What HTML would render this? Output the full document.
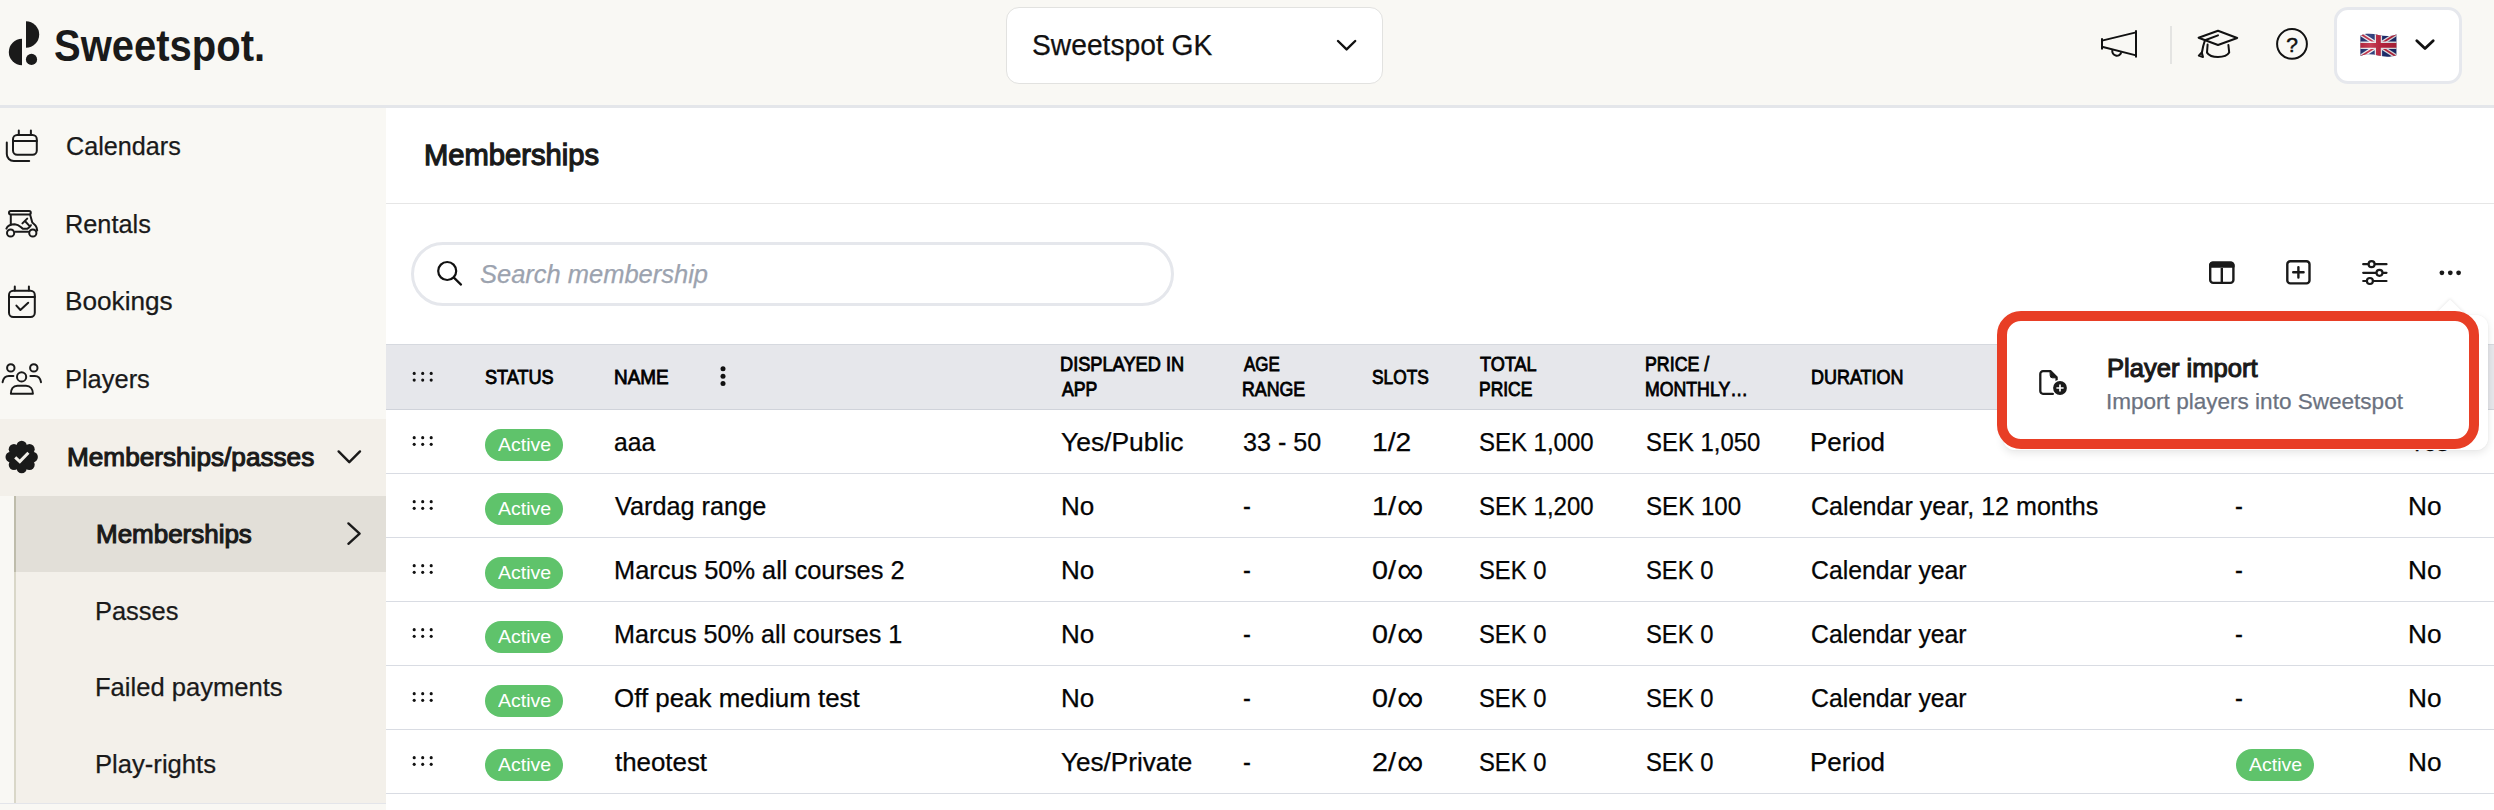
<!DOCTYPE html>
<html lang="en"><head><meta charset="utf-8"><title>Sweetspot – Memberships</title>
<style>
*{box-sizing:border-box;margin:0;padding:0}
html,body{width:2494px;height:810px;overflow:hidden;background:#fff;font-family:"Liberation Sans",sans-serif;}
body{position:relative}
.abs{position:absolute}
.t{position:absolute;transform-origin:0 0;white-space:nowrap;line-height:1;font-family:"Liberation Sans",sans-serif;}
#header{position:absolute;left:0;top:0;width:2494px;height:105px;background:#f9f8f4}
#hline{position:absolute;left:0;top:105px;width:2494px;height:3px;background:#e4e6ea}
#sidebar{position:absolute;left:0;top:108px;width:386px;height:702px;background:#f9f8f4}
#selparent{position:absolute;left:0;top:419px;width:386px;height:77px;background:#f3f0ea}
#submenu{position:absolute;left:14px;top:496px;width:372px;height:307px;background:#f3f0ea;border-left:2px solid #d9d7c8}
#selchild{position:absolute;left:14px;top:496px;width:372px;height:76px;background:#e2dfd8;border-left:2px solid #bebcab}
#sbline{position:absolute;left:0;top:803px;width:386px;height:1px;background:#e3e5ea}
#titleline{position:absolute;left:386px;top:203px;width:2108px;height:1px;background:#e6e6e6}
#select{position:absolute;left:1006px;top:7px;width:377px;height:77px;background:#fff;border:1px solid #e2e2e0;border-radius:13px}
#lang{position:absolute;left:2334px;top:7px;width:128px;height:77px;background:#fff;border:3px solid #e6e8ed;border-radius:14px}
#hdiv{position:absolute;left:2170px;top:26px;width:2px;height:38px;background:#e4e4e2}
#search{position:absolute;left:411px;top:242px;width:762.5px;height:64px;border:3px solid #e5e7ec;border-radius:32px;background:#fff}
#thead{position:absolute;left:386px;top:344px;width:2108px;height:66px;background:#e6e7eb;border-top:1px solid #d6d9df;border-bottom:1px solid #d0d3da}
.rl{position:absolute;left:386px;width:2108px;height:1px;background:#d9dce3}
.badge{position:absolute;width:78px;height:32px;border-radius:16px;background:#5fc36b}
svg{position:absolute;overflow:visible}
#popup{position:absolute;left:2003px;top:314.5px;width:484.5px;height:135.5px;background:#fff;border-radius:12px;box-shadow:0 3px 9px rgba(0,0,0,.10),0 0 2px rgba(0,0,0,.06)}
#parrow{position:absolute;left:2438.6px;top:303.5px;width:22px;height:22px;background:#fff;transform:rotate(45deg);box-shadow:-1px -1px 3px rgba(0,0,0,.07)}
#redbox{position:absolute;left:1997px;top:311px;width:482px;height:138px;border:10px solid #e83e25;border-radius:24px}

</style></head><body>
<div id="header"></div>
<div id="hline"></div>
<div id="sidebar"></div>
<div id="selparent"></div>
<div id="submenu"></div>
<div id="selchild"></div>
<div id="sbline"></div>
<div id="titleline"></div>
<div id="select"></div>
<div id="lang"></div>
<div id="hdiv"></div>
<div id="search"></div>
<div id="thead"></div>
<div class="rl" style="top:473px"></div>
<div class="rl" style="top:537px"></div>
<div class="rl" style="top:601px"></div>
<div class="rl" style="top:665px"></div>
<div class="rl" style="top:729px"></div>
<div class="rl" style="top:793px"></div>
<div class="badge" style="left:485px;top:429px"></div>
<div class="badge" style="left:485px;top:493px"></div>
<div class="badge" style="left:485px;top:557px"></div>
<div class="badge" style="left:485px;top:621px"></div>
<div class="badge" style="left:485px;top:685px"></div>
<div class="badge" style="left:485px;top:749px"></div>
<div class="badge" style="left:2236px;top:749px"></div>
<svg id="icons" style="left:0;top:0" width="2494" height="810" viewBox="0 0 2494 810" fill="none" stroke="#1a1a1a" stroke-width="2" stroke-linecap="round" stroke-linejoin="round">
<!-- logo mark -->
<g fill="#1a1a1a" stroke="none">
  <path d="M26 21.3 A13.2 13.2 0 0 1 26 47.7 Z"/>
  <path d="M22 38.8 A13.2 13.2 0 0 0 22 65.2 Z"/>
  <circle cx="31.5" cy="59.4" r="5.6"/>
</g>
<!-- calendars -->
<g>
  <rect x="13" y="135.1" width="23.8" height="19.7" rx="4.2"/>
  <path d="M18.8 130.6 V134.6 M30.9 130.6 V134.6 M13 140.9 H36.8"/>
  <path d="M6.8 142.6 V154 A7 7 0 0 0 13.8 161 H29.2"/>
</g>
<!-- rentals (golf cart) -->
<g>
  <rect x="9" y="211" width="21.8" height="3.5" rx="1.7"/>
  <path d="M10.8 215 V224.6"/>
  <path d="M30.2 215 L32.3 222.6 C34 224 36 225.4 36.6 227.6 L37.2 230.5"/>
  <path d="M6.4 228.6 C7.6 225.6 11.5 224.2 14.8 224.2 C19 224.4 20.4 227 22.8 228.8 H27.2 C29 227.8 30.2 226.4 30.9 225.2"/>
  <path d="M22.4 223.4 L27.2 218.6 M24.9 221 L29.2 225.6"/>
  <circle cx="10.6" cy="233" r="3.6"/>
  <circle cx="32.8" cy="233" r="3.6"/>
  <path d="M15.4 231.8 H28.2"/>
</g>
<!-- bookings -->
<g>
  <rect x="9" y="290.8" width="25.8" height="26.1" rx="4.2"/>
  <path d="M14.8 286.4 V290.4 M28.9 286.4 V290.4 M9 296.9 H34.8"/>
  <path d="M16.4 305.6 L20.4 310 L28.2 302.7"/>
</g>
<!-- players -->
<g>
  <circle cx="10.8" cy="367.9" r="3.7"/>
  <circle cx="33.8" cy="367.9" r="3.7"/>
  <circle cx="21.6" cy="376.9" r="4.6"/>
  <path d="M2.6 382.2 C3.2 378.4 5.6 375.9 9 375.9 H13.4"/>
  <path d="M30.4 375.9 H34.8 C38.2 375.9 40.4 378.4 41 382.2"/>
  <path d="M10.9 393.8 H32.9 C32.9 389.4 30.4 385.8 26 385.8 H17.4 C13 385.8 10.9 389.4 10.9 393.8 Z"/>
</g>
<!-- memberships rosette -->
<g fill="#1a1a1a" stroke="none"><circle cx="21.7" cy="457.0" r="12.6"/><circle cx="21.70" cy="446.00" r="5.2"/><circle cx="29.48" cy="449.22" r="5.2"/><circle cx="32.70" cy="457.00" r="5.2"/><circle cx="29.48" cy="464.78" r="5.2"/><circle cx="21.70" cy="468.00" r="5.2"/><circle cx="13.92" cy="464.78" r="5.2"/><circle cx="10.70" cy="457.00" r="5.2"/><circle cx="13.92" cy="449.22" r="5.2"/></g>
<path d="M15.2 457.4 L19.8 461.6 L28.4 452.8" stroke="#f3f0ea" stroke-width="3" stroke-linecap="butt" stroke-linejoin="miter"/>
<!-- sidebar chevrons -->
<path d="M338.6 451.4 L349.3 462.2 L360 451.4" stroke-width="2.4"/>
<path d="M348.4 523.4 L359.6 533.6 L348.4 543.8" stroke-width="2.4"/>
<!-- select chevron -->
<path d="M1338 41 L1346.6 49.4 L1355.2 41" stroke="#111" stroke-width="2.4"/>
<!-- megaphone -->
<g stroke="#111" stroke-linecap="butt" stroke-linejoin="miter">
  <path d="M2102 38.3 V49.4 M2136 30.2 V57.6"/>
  <path d="M2102 40.6 L2136 32.4 M2102 46.8 L2136 55.4"/>
  <path d="M2112.4 50 A4.5 4.5 0 0 0 2121.3 52.2"/>
</g>
<!-- grad cap -->
<g stroke="#111">
  <path d="M2198.6 37.7 L2218 30.8 L2237.2 38 L2218 45 Z"/>
  <path d="M2218 35.4 L2205 40.2 C2203.6 44 2202.6 48.4 2201.8 53"/>
  <path d="M2201.8 52.4 L2198.8 55.6 L2203 57 Z" />
  <path d="M2207.6 44.6 L2207 52.6 C2209 55.6 2213.4 57 2218 57 C2222.8 57 2227.4 55.6 2229.2 52.6 L2228.4 45"/>
</g>
<!-- help -->
<circle cx="2292" cy="43.9" r="14.9" stroke="#111"/>
<!-- lang chevron -->
<path d="M2416.8 40.8 L2425 48.6 L2433.2 40.8" stroke="#111" stroke-width="2.8"/>
<!-- search -->
<circle cx="447.2" cy="271" r="9" stroke="#111" stroke-width="2.2"/>
<path d="M453.9 277.6 L461 284.6" stroke="#111" stroke-width="2.2"/>
<!-- drag handles + kebab -->
<g fill="#111" stroke="none"><circle cx="414.2" cy="373.40" r="1.55"/><circle cx="414.2" cy="380.10" r="1.55"/><circle cx="422.7" cy="373.40" r="1.55"/><circle cx="422.7" cy="380.10" r="1.55"/><circle cx="431.2" cy="373.40" r="1.55"/><circle cx="431.2" cy="380.10" r="1.55"/><circle cx="414.2" cy="437.65" r="1.55"/><circle cx="414.2" cy="444.35" r="1.55"/><circle cx="422.7" cy="437.65" r="1.55"/><circle cx="422.7" cy="444.35" r="1.55"/><circle cx="431.2" cy="437.65" r="1.55"/><circle cx="431.2" cy="444.35" r="1.55"/><circle cx="414.2" cy="501.65" r="1.55"/><circle cx="414.2" cy="508.35" r="1.55"/><circle cx="422.7" cy="501.65" r="1.55"/><circle cx="422.7" cy="508.35" r="1.55"/><circle cx="431.2" cy="501.65" r="1.55"/><circle cx="431.2" cy="508.35" r="1.55"/><circle cx="414.2" cy="565.65" r="1.55"/><circle cx="414.2" cy="572.35" r="1.55"/><circle cx="422.7" cy="565.65" r="1.55"/><circle cx="422.7" cy="572.35" r="1.55"/><circle cx="431.2" cy="565.65" r="1.55"/><circle cx="431.2" cy="572.35" r="1.55"/><circle cx="414.2" cy="629.65" r="1.55"/><circle cx="414.2" cy="636.35" r="1.55"/><circle cx="422.7" cy="629.65" r="1.55"/><circle cx="422.7" cy="636.35" r="1.55"/><circle cx="431.2" cy="629.65" r="1.55"/><circle cx="431.2" cy="636.35" r="1.55"/><circle cx="414.2" cy="693.65" r="1.55"/><circle cx="414.2" cy="700.35" r="1.55"/><circle cx="422.7" cy="693.65" r="1.55"/><circle cx="422.7" cy="700.35" r="1.55"/><circle cx="431.2" cy="693.65" r="1.55"/><circle cx="431.2" cy="700.35" r="1.55"/><circle cx="414.2" cy="757.65" r="1.55"/><circle cx="414.2" cy="764.35" r="1.55"/><circle cx="422.7" cy="757.65" r="1.55"/><circle cx="422.7" cy="764.35" r="1.55"/><circle cx="431.2" cy="757.65" r="1.55"/><circle cx="431.2" cy="764.35" r="1.55"/>
  <circle cx="723" cy="368.8" r="2.5"/><circle cx="723" cy="376.3" r="2.5"/><circle cx="723" cy="383.6" r="2.5"/>
</g>
<!-- toolbar: columns -->
<g stroke="#1a1a1a" stroke-width="2.4">
  <rect x="2210.2" y="262.7" width="23.2" height="20.2" rx="3"/>
  <path d="M2210.2 266.5 H2233.4 V265 A2.3 2.3 0 0 0 2231 262.7 H2212.6 A2.3 2.3 0 0 0 2210.2 265 Z" fill="#1a1a1a"/>
  <path d="M2221.8 268 V282.6" stroke-linecap="butt"/>
  <rect x="2287.3" y="261.2" width="22.2" height="22.2" rx="3"/>
  <path d="M2293.2 272.3 H2303.6 M2298.4 267.1 V277.5"/>
</g>
<!-- sliders -->
<g stroke="#1a1a1a" stroke-width="2.2">
  <path d="M2363.2 264.2 H2368.2 M2375 264.2 H2386.5"/>
  <path d="M2363.2 272.8 H2376 M2383 272.8 H2386.5"/>
  <path d="M2363.2 281 H2366.5 M2373.4 281 H2386.5"/>
  <circle cx="2371.6" cy="264.2" r="3"/>
  <circle cx="2379.5" cy="272.8" r="3"/>
  <circle cx="2369.9" cy="281" r="3"/>
</g>
<g fill="#1a1a1a" stroke="none">
  <circle cx="2441.9" cy="272.8" r="2.4"/><circle cx="2450.3" cy="272.8" r="2.4"/><circle cx="2458.6" cy="272.8" r="2.4"/>
</g>
<!-- flag -->
<defs>
  <clipPath id="flagclip"><path d="M2360.4 35.4 C2366 33 2372 33.6 2378.4 35 C2384.6 36.4 2390.6 36.6 2396.4 34.6 V55.2 C2390.6 57.2 2384.6 57 2378.4 55.6 C2372 54.2 2366 53.6 2360.4 56 Z"/></clipPath>
  <linearGradient id="flagshade" x1="0" x2="1" y1="0" y2="0">
    <stop offset="0" stop-color="#000" stop-opacity=".12"/><stop offset=".3" stop-color="#fff" stop-opacity=".12"/><stop offset=".6" stop-color="#000" stop-opacity=".08"/><stop offset="1" stop-color="#000" stop-opacity=".18"/>
  </linearGradient>
</defs>
<g clip-path="url(#flagclip)" stroke-linecap="butt">
  <rect x="2358" y="30" width="42" height="30" fill="#1f2f73" stroke="none"/>
  <path d="M2360 33.5 L2397 57 M2397 33.5 L2360 57" stroke="#f0f0f3" stroke-width="4.4"/>
  <path d="M2360 33.5 L2397 57 M2397 33.5 L2360 57" stroke="#c02540" stroke-width="1.8"/>
  <path d="M2378.4 30 V60 M2358 45.3 H2400" stroke="#f0f0f3" stroke-width="7.4"/>
  <path d="M2378.4 30 V60 M2358 45.3 H2400" stroke="#c02540" stroke-width="4.8"/>
  <rect x="2358" y="30" width="42" height="30" fill="url(#flagshade)" stroke="none"/>
</g>
</svg>
<span class="t" style="left:2286.2px;top:33.9px;font-size:21px;color:#111;-webkit-text-stroke:0.5px #111">?</span>

<div id="texts">
<span class="t" id="t0" style="left:54.11px;top:23.31px;font-size:45px;color:#1a1a1a;font-weight:700;transform:scaleX(0.8889);">Sweetspot.</span>
<span class="t" id="t1" style="left:1032.03px;top:31.05px;font-size:29px;color:#111;-webkit-text-stroke:0.25px #111;transform:scaleX(0.9728);">Sweetspot GK</span>
<span class="t" id="t2" style="left:66.33px;top:132.99px;font-size:26px;color:#1a1a1a;-webkit-text-stroke:0.25px #1a1a1a;transform:scaleX(0.9684);">Calendars</span>
<span class="t" id="t3" style="left:65.35px;top:210.59px;font-size:26px;color:#1a1a1a;-webkit-text-stroke:0.25px #1a1a1a;transform:scaleX(0.9733);">Rentals</span>
<span class="t" id="t4" style="left:65.29px;top:287.99px;font-size:26px;color:#1a1a1a;-webkit-text-stroke:0.25px #1a1a1a;transform:scaleX(1.0067);">Bookings</span>
<span class="t" id="t5" style="left:65.34px;top:365.59px;font-size:26px;color:#1a1a1a;-webkit-text-stroke:0.25px #1a1a1a;transform:scaleX(0.9786);">Players</span>
<span class="t" id="t6" style="left:66.79px;top:444.19px;font-size:26px;color:#1a1a1a;-webkit-text-stroke:1.09px #1a1a1a;transform:scaleX(1.0065);">Memberships/passes</span>
<span class="t" id="t7" style="left:95.80px;top:521.49px;font-size:26px;color:#1a1a1a;-webkit-text-stroke:1.09px #1a1a1a;transform:scaleX(0.9987);">Memberships</span>
<span class="t" id="t8" style="left:94.84px;top:597.99px;font-size:26px;color:#1a1a1a;-webkit-text-stroke:0.25px #1a1a1a;transform:scaleX(0.9783);">Passes</span>
<span class="t" id="t9" style="left:94.83px;top:674.39px;font-size:26px;color:#1a1a1a;-webkit-text-stroke:0.25px #1a1a1a;transform:scaleX(0.9830);">Failed payments</span>
<span class="t" id="t10" style="left:94.83px;top:750.99px;font-size:26px;color:#1a1a1a;-webkit-text-stroke:0.25px #1a1a1a;transform:scaleX(0.9850);">Play-rights</span>
<span class="t" id="t11" style="left:423.86px;top:139.91px;font-size:30px;color:#1a1a1a;-webkit-text-stroke:1.26px #1a1a1a;transform:scaleX(0.9719);">Memberships</span>
<span class="t" id="t12" style="left:480.02px;top:261.19px;font-size:26px;color:#9ca3af;font-style:italic;-webkit-text-stroke:0.25px #9ca3af;transform:scaleX(0.9801);">Search membership</span>
<span class="t" id="t13" style="left:484.50px;top:367.07px;font-size:20px;color:#000;-webkit-text-stroke:0.84px #000;transform:scaleX(0.9039);">STATUS</span>
<span class="t" id="t14" style="left:613.65px;top:367.07px;font-size:20px;color:#000;-webkit-text-stroke:0.84px #000;transform:scaleX(0.9456);">NAME</span>
<span class="t" id="t15" style="left:1060.09px;top:354.07px;font-size:20px;color:#000;-webkit-text-stroke:0.84px #000;transform:scaleX(0.9104);">DISPLAYED IN</span>
<span class="t" id="t16" style="left:1061.88px;top:379.07px;font-size:20px;color:#000;-webkit-text-stroke:0.84px #000;transform:scaleX(0.8829);">APP</span>
<span class="t" id="t17" style="left:1243.85px;top:354.07px;font-size:20px;color:#000;-webkit-text-stroke:0.84px #000;transform:scaleX(0.8465);">AGE</span>
<span class="t" id="t18" style="left:1242.11px;top:379.07px;font-size:20px;color:#000;-webkit-text-stroke:0.84px #000;transform:scaleX(0.8886);">RANGE</span>
<span class="t" id="t19" style="left:1371.70px;top:367.07px;font-size:20px;color:#000;-webkit-text-stroke:0.84px #000;transform:scaleX(0.8662);">SLOTS</span>
<span class="t" id="t20" style="left:1480.00px;top:354.07px;font-size:20px;color:#000;-webkit-text-stroke:0.84px #000;transform:scaleX(0.9048);">TOTAL</span>
<span class="t" id="t21" style="left:1479.13px;top:379.07px;font-size:20px;color:#000;-webkit-text-stroke:0.84px #000;transform:scaleX(0.8717);">PRICE</span>
<span class="t" id="t22" style="left:1645.11px;top:354.07px;font-size:20px;color:#000;-webkit-text-stroke:0.84px #000;transform:scaleX(0.8889);">PRICE /</span>
<span class="t" id="t23" style="left:1645.12px;top:379.07px;font-size:20px;color:#000;-webkit-text-stroke:0.84px #000;transform:scaleX(0.8850);">MONTHLY…</span>
<span class="t" id="t24" style="left:1811.10px;top:367.07px;font-size:20px;color:#000;-webkit-text-stroke:0.84px #000;transform:scaleX(0.8980);">DURATION</span>
<span class="t" id="t25" style="left:614.01px;top:429.64px;font-size:25px;color:#050505;-webkit-text-stroke:0.25px #050505;transform:scaleX(0.9854);">aaa</span>
<span class="t" id="t26" style="left:1061.40px;top:429.64px;font-size:25px;color:#050505;-webkit-text-stroke:0.25px #050505;transform:scaleX(1.0574);">Yes/Public</span>
<span class="t" id="t27" style="left:1242.59px;top:429.64px;font-size:25px;color:#050505;-webkit-text-stroke:0.25px #050505;transform:scaleX(1.0053);">33 - 50</span>
<span class="t" id="t28" style="left:1371.87px;top:429.64px;font-size:25px;color:#050505;-webkit-text-stroke:0.25px #050505;transform:scaleX(1.1303);">1/2</span>
<span class="t" id="t29" style="left:1479.44px;top:429.64px;font-size:25px;color:#050505;-webkit-text-stroke:0.25px #050505;transform:scaleX(0.9585);">SEK 1,000</span>
<span class="t" id="t30" style="left:1645.54px;top:429.64px;font-size:25px;color:#050505;-webkit-text-stroke:0.25px #050505;transform:scaleX(0.9559);">SEK 1,050</span>
<span class="t" id="t31" style="left:1810.32px;top:429.64px;font-size:25px;color:#050505;-webkit-text-stroke:0.25px #050505;transform:scaleX(1.0377);">Period</span>
<span class="t" id="t32" style="left:2408.50px;top:429.64px;font-size:25px;color:#050505;-webkit-text-stroke:0.25px #050505;transform:scaleX(0.9750);">Yes</span>
<span class="t" id="t33" style="left:498.00px;top:435.56px;font-size:18px;color:#fff;transform:scaleX(1.0833);">Active</span>
<span class="t" id="t34" style="left:615.00px;top:493.64px;font-size:25px;color:#050505;-webkit-text-stroke:0.25px #050505;transform:scaleX(1.0107);">Vardag range</span>
<span class="t" id="t35" style="left:1060.82px;top:493.64px;font-size:25px;color:#050505;-webkit-text-stroke:0.25px #050505;transform:scaleX(1.0414);">No</span>
<span class="t" id="t36" style="left:1242.56px;top:493.64px;font-size:25px;color:#050505;-webkit-text-stroke:0.25px #050505;transform:scaleX(0.9429);">-</span>
<span class="t" id="t37" style="left:1371.85px;top:493.64px;font-size:25px;color:#050505;-webkit-text-stroke:0.25px #050505;transform:scaleX(1.1500);">1/</span>
<span class="t" id="t38" style="left:1396.70px;top:485.80px;font-size:34px;color:#050505;transform:scale(1.0955,1.1308);">∞</span>
<span class="t" id="t39" style="left:1479.44px;top:493.64px;font-size:25px;color:#050505;-webkit-text-stroke:0.25px #050505;transform:scaleX(0.9585);">SEK 1,200</span>
<span class="t" id="t40" style="left:1645.54px;top:493.64px;font-size:25px;color:#050505;-webkit-text-stroke:0.25px #050505;transform:scaleX(0.9639);">SEK 100</span>
<span class="t" id="t41" style="left:1811.40px;top:493.64px;font-size:25px;color:#050505;-webkit-text-stroke:0.25px #050505;transform:scaleX(1.0035);">Calendar year, 12 months</span>
<span class="t" id="t42" style="left:2234.86px;top:493.64px;font-size:25px;color:#050505;-webkit-text-stroke:0.25px #050505;transform:scaleX(0.9429);">-</span>
<span class="t" id="t43" style="left:2407.50px;top:493.64px;font-size:25px;color:#050505;-webkit-text-stroke:0.25px #050505;transform:scaleX(1.0483);">No</span>
<span class="t" id="t44" style="left:498.00px;top:499.56px;font-size:18px;color:#fff;transform:scaleX(1.0833);">Active</span>
<span class="t" id="t45" style="left:613.97px;top:557.64px;font-size:25px;color:#050505;-webkit-text-stroke:0.25px #050505;transform:scaleX(1.0152);">Marcus 50% all courses 2</span>
<span class="t" id="t46" style="left:1060.82px;top:557.64px;font-size:25px;color:#050505;-webkit-text-stroke:0.25px #050505;transform:scaleX(1.0414);">No</span>
<span class="t" id="t47" style="left:1242.56px;top:557.64px;font-size:25px;color:#050505;-webkit-text-stroke:0.25px #050505;transform:scaleX(0.9429);">-</span>
<span class="t" id="t48" style="left:1371.85px;top:557.64px;font-size:25px;color:#050505;-webkit-text-stroke:0.25px #050505;transform:scaleX(1.1500);">0/</span>
<span class="t" id="t49" style="left:1396.70px;top:549.80px;font-size:34px;color:#050505;transform:scale(1.0955,1.1308);">∞</span>
<span class="t" id="t50" style="left:1479.45px;top:557.64px;font-size:25px;color:#050505;-webkit-text-stroke:0.25px #050505;transform:scaleX(0.9507);">SEK 0</span>
<span class="t" id="t51" style="left:1645.55px;top:557.64px;font-size:25px;color:#050505;-webkit-text-stroke:0.25px #050505;transform:scaleX(0.9507);">SEK 0</span>
<span class="t" id="t52" style="left:1811.41px;top:557.64px;font-size:25px;color:#050505;-webkit-text-stroke:0.25px #050505;transform:scaleX(0.9910);">Calendar year</span>
<span class="t" id="t53" style="left:2234.86px;top:557.64px;font-size:25px;color:#050505;-webkit-text-stroke:0.25px #050505;transform:scaleX(0.9429);">-</span>
<span class="t" id="t54" style="left:2407.50px;top:557.64px;font-size:25px;color:#050505;-webkit-text-stroke:0.25px #050505;transform:scaleX(1.0483);">No</span>
<span class="t" id="t55" style="left:498.00px;top:563.56px;font-size:18px;color:#fff;transform:scaleX(1.0833);">Active</span>
<span class="t" id="t56" style="left:613.99px;top:621.64px;font-size:25px;color:#050505;-webkit-text-stroke:0.25px #050505;transform:scaleX(1.0071);">Marcus 50% all courses 1</span>
<span class="t" id="t57" style="left:1060.82px;top:621.64px;font-size:25px;color:#050505;-webkit-text-stroke:0.25px #050505;transform:scaleX(1.0414);">No</span>
<span class="t" id="t58" style="left:1242.56px;top:621.64px;font-size:25px;color:#050505;-webkit-text-stroke:0.25px #050505;transform:scaleX(0.9429);">-</span>
<span class="t" id="t59" style="left:1371.85px;top:621.64px;font-size:25px;color:#050505;-webkit-text-stroke:0.25px #050505;transform:scaleX(1.1500);">0/</span>
<span class="t" id="t60" style="left:1396.70px;top:613.80px;font-size:34px;color:#050505;transform:scale(1.0955,1.1308);">∞</span>
<span class="t" id="t61" style="left:1479.45px;top:621.64px;font-size:25px;color:#050505;-webkit-text-stroke:0.25px #050505;transform:scaleX(0.9507);">SEK 0</span>
<span class="t" id="t62" style="left:1645.55px;top:621.64px;font-size:25px;color:#050505;-webkit-text-stroke:0.25px #050505;transform:scaleX(0.9507);">SEK 0</span>
<span class="t" id="t63" style="left:1811.41px;top:621.64px;font-size:25px;color:#050505;-webkit-text-stroke:0.25px #050505;transform:scaleX(0.9910);">Calendar year</span>
<span class="t" id="t64" style="left:2234.86px;top:621.64px;font-size:25px;color:#050505;-webkit-text-stroke:0.25px #050505;transform:scaleX(0.9429);">-</span>
<span class="t" id="t65" style="left:2407.50px;top:621.64px;font-size:25px;color:#050505;-webkit-text-stroke:0.25px #050505;transform:scaleX(1.0483);">No</span>
<span class="t" id="t66" style="left:498.00px;top:627.56px;font-size:18px;color:#fff;transform:scaleX(1.0833);">Active</span>
<span class="t" id="t67" style="left:614.36px;top:685.64px;font-size:25px;color:#050505;-webkit-text-stroke:0.25px #050505;transform:scaleX(1.0364);">Off peak medium test</span>
<span class="t" id="t68" style="left:1060.82px;top:685.64px;font-size:25px;color:#050505;-webkit-text-stroke:0.25px #050505;transform:scaleX(1.0414);">No</span>
<span class="t" id="t69" style="left:1242.56px;top:685.64px;font-size:25px;color:#050505;-webkit-text-stroke:0.25px #050505;transform:scaleX(0.9429);">-</span>
<span class="t" id="t70" style="left:1371.85px;top:685.64px;font-size:25px;color:#050505;-webkit-text-stroke:0.25px #050505;transform:scaleX(1.1500);">0/</span>
<span class="t" id="t71" style="left:1396.70px;top:677.80px;font-size:34px;color:#050505;transform:scale(1.0955,1.1308);">∞</span>
<span class="t" id="t72" style="left:1479.45px;top:685.64px;font-size:25px;color:#050505;-webkit-text-stroke:0.25px #050505;transform:scaleX(0.9507);">SEK 0</span>
<span class="t" id="t73" style="left:1645.55px;top:685.64px;font-size:25px;color:#050505;-webkit-text-stroke:0.25px #050505;transform:scaleX(0.9507);">SEK 0</span>
<span class="t" id="t74" style="left:1811.41px;top:685.64px;font-size:25px;color:#050505;-webkit-text-stroke:0.25px #050505;transform:scaleX(0.9910);">Calendar year</span>
<span class="t" id="t75" style="left:2234.86px;top:685.64px;font-size:25px;color:#050505;-webkit-text-stroke:0.25px #050505;transform:scaleX(0.9429);">-</span>
<span class="t" id="t76" style="left:2407.50px;top:685.64px;font-size:25px;color:#050505;-webkit-text-stroke:0.25px #050505;transform:scaleX(1.0483);">No</span>
<span class="t" id="t77" style="left:498.00px;top:691.56px;font-size:18px;color:#fff;transform:scaleX(1.0833);">Active</span>
<span class="t" id="t78" style="left:615.40px;top:749.64px;font-size:25px;color:#050505;-webkit-text-stroke:0.25px #050505;transform:scaleX(1.0348);">theotest</span>
<span class="t" id="t79" style="left:1061.40px;top:749.64px;font-size:25px;color:#050505;-webkit-text-stroke:0.25px #050505;transform:scaleX(1.0448);">Yes/Private</span>
<span class="t" id="t80" style="left:1242.56px;top:749.64px;font-size:25px;color:#050505;-webkit-text-stroke:0.25px #050505;transform:scaleX(0.9429);">-</span>
<span class="t" id="t81" style="left:1371.85px;top:749.64px;font-size:25px;color:#050505;-webkit-text-stroke:0.25px #050505;transform:scaleX(1.1500);">2/</span>
<span class="t" id="t82" style="left:1396.70px;top:741.80px;font-size:34px;color:#050505;transform:scale(1.0955,1.1308);">∞</span>
<span class="t" id="t83" style="left:1479.45px;top:749.64px;font-size:25px;color:#050505;-webkit-text-stroke:0.25px #050505;transform:scaleX(0.9507);">SEK 0</span>
<span class="t" id="t84" style="left:1645.55px;top:749.64px;font-size:25px;color:#050505;-webkit-text-stroke:0.25px #050505;transform:scaleX(0.9507);">SEK 0</span>
<span class="t" id="t85" style="left:1810.32px;top:749.64px;font-size:25px;color:#050505;-webkit-text-stroke:0.25px #050505;transform:scaleX(1.0377);">Period</span>
<span class="t" id="t86" style="left:2407.50px;top:749.64px;font-size:25px;color:#050505;-webkit-text-stroke:0.25px #050505;transform:scaleX(1.0483);">No</span>
<span class="t" id="t87" style="left:498.00px;top:755.56px;font-size:18px;color:#fff;transform:scaleX(1.0833);">Active</span>
<span class="t" id="t88" style="left:2249.00px;top:755.56px;font-size:18px;color:#fff;transform:scaleX(1.0833);">Active</span>
</div>
<div id="popup"></div>
<div id="parrow"></div>
<div id="popup2" style="position:absolute;left:2003px;top:314.5px;width:484.5px;height:135.5px;background:#fff;border-radius:12px"></div>
<div id="redbox"></div>
<svg style="left:0;top:0" width="2494" height="810" viewBox="0 0 2494 810" fill="none" stroke="#1a1a1a" stroke-width="2.3" stroke-linecap="round" stroke-linejoin="round">
  <path d="M2053 393.8 H2043 A2.7 2.7 0 0 1 2040.3 391.1 V373.9 A2.7 2.7 0 0 1 2043 371.2 H2050.6 L2056.6 377.2 V380.4"/>
  <path d="M2050.2 371.2 L2056.8 377.8 H2052.2 A2 2 0 0 1 2050.2 375.8 Z" fill="#1a1a1a" stroke-width="1"/>
  <circle cx="2060" cy="388" r="8.3" fill="#fff" stroke="none"/><circle cx="2060" cy="388" r="6.9" fill="#1a1a1a" stroke="none"/>
  <path d="M2056.4 388 H2063.6 M2060 384.4 V391.6" stroke="#fff" stroke-width="1.7" stroke-linecap="butt"/>
</svg>

<div id="texts2">
<span class="t top" id="t89" style="left:2107.42px;top:354.89px;font-size:26px;color:#1a1a1a;-webkit-text-stroke:1.09px #1a1a1a;transform:scaleX(0.9830);">Player import</span>
<span class="t top" id="t90" style="left:2106.35px;top:391.48px;font-size:22px;color:#6b7280;-webkit-text-stroke:0.25px #6b7280;transform:scaleX(1.0247);">Import players into Sweetspot</span>
</div>
</body></html>
